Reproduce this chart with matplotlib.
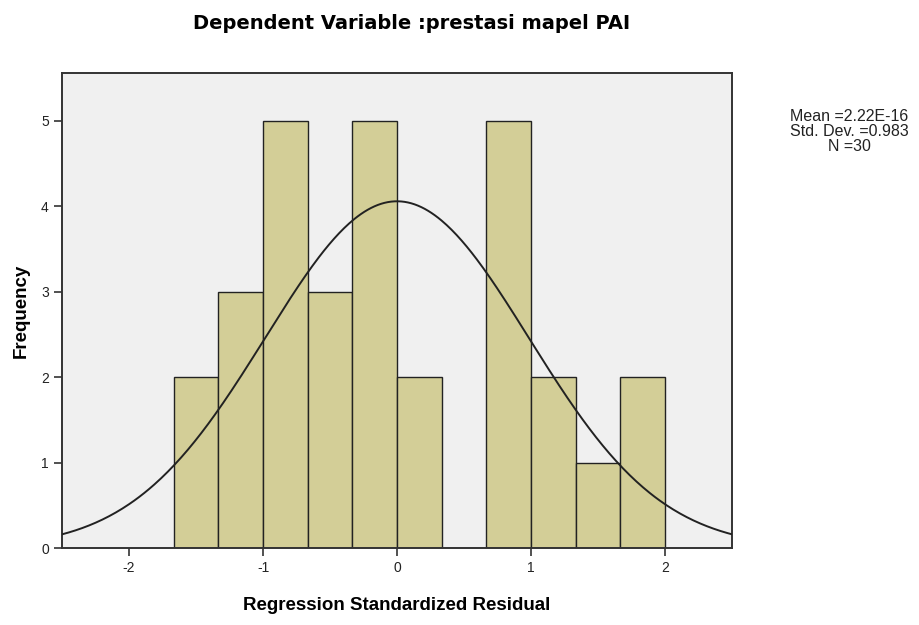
import numpy as np
import matplotlib
matplotlib.use('Agg')
import matplotlib.pyplot as plt

# histogram bins of the standardized residuals
bin_start = -5 / 3
bin_width = 1 / 3
counts = [2, 3, 5, 3, 5, 2, 0, 5, 2, 1, 2]

MEAN = 2.22e-16
STD = 0.983
N = 30

plt.rcParams['font.family'] = ['Liberation Sans', 'DejaVu Sans']
plt.rcParams['axes.unicode_minus'] = False

fig = plt.figure(figsize=(9.2, 6.25), dpi=100, facecolor="white")
ax = fig.add_axes([0.0674, 0.1232, 0.7283, 0.76])
ax.set_facecolor("#f0f0f0")

lefts = bin_start + bin_width * np.arange(len(counts))
ax.bar(lefts, counts, width=bin_width, align='edge', color="#d3ce97",
       edgecolor="#222222", linewidth=1.0, zorder=2)

# normal curve scaled to counts
xs = np.linspace(-2.5, 2.5, 400)
ys = N * bin_width * np.exp(-0.5 * ((xs - MEAN) / STD) ** 2) / (STD * np.sqrt(2 * np.pi))
ax.plot(xs, ys, color="#222222", linewidth=1.4, zorder=3)

ax.set_xlim(-2.5, 2.5)
ax.set_ylim(0, 5.56)
ax.set_xticks([-2, -1, 0, 1, 2])
ax.set_yticks([0, 1, 2, 3, 4, 5])
ax.tick_params(direction='out', length=6, width=1.2, color="#333333",
               labelsize=10, labelcolor="#222222")
for spine in ax.spines.values():
    spine.set_edgecolor("#333333")
    spine.set_linewidth(1.4)

ax.set_xlabel("Regression Standardized Residual", fontsize=13.5, fontweight="bold",
              labelpad=16)
ax.set_ylabel("Frequency", fontsize=13.5, fontweight="bold", labelpad=8)

fig.text(0.447, 0.963, "Dependent Variable :prestasi mapel PAI", ha="center",
         va="center", fontsize=14, fontweight="bold", family="DejaVu Sans")

fig.text(0.923, 0.789, f"Mean ={MEAN:.2E}\nStd. Dev. ={STD}\nN ={N}",
         ha="center", va="center", fontsize=11.5, color="#222222",
         linespacing=1.0)

fig.savefig("out.png", dpi=100, facecolor="white")
